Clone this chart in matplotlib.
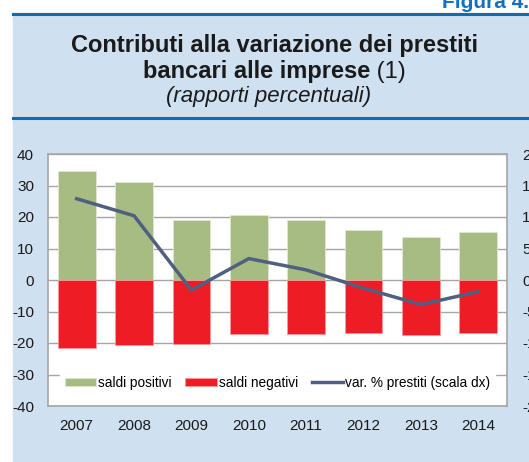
import matplotlib
matplotlib.use("Agg")
import matplotlib.pyplot as plt
from matplotlib.patches import Rectangle
from matplotlib.lines import Line2D

plt.rcParams['font.family'] = ['Liberation Sans', 'DejaVu Sans']
plt.rcParams['axes.unicode_minus'] = False

anni = ['2007', '2008', '2009', '2010', '2011', '2012', '2013', '2014']
saldi_positivi = [34.6, 31.1, 18.9, 20.5, 18.9, 15.9, 13.7, 15.1]
saldi_negativi = [-21.7, -20.5, -20.2, -17.0, -17.3, -16.9, -17.4, -16.8]
var_prestiti = [12.9, 10.2, -1.6, 3.4, 1.6, -1.3, -3.9, -1.85]

W, H = 529, 462
fig = plt.figure(figsize=(W / 100, H / 100), dpi=100)
fig.patch.set_facecolor('white')

def px(x, y):
    return x / W, 1 - y / H

# light blue panel and dark blue rules
fig.add_artist(Rectangle(px(13, 462), (W - 13) / W, (462 - 13) / H,
                         transform=fig.transFigure, color='#cfe0f1', zorder=-10))
for yy in (13.5, 117.5):
    fig.add_artist(Line2D([13 / W, 1], [1 - yy / H] * 2, color='#0b6db5', lw=2.2, zorder=-5))

fig.text(*px(442, 8), 'Figura 4.4', color='#1170c0', fontsize=15,
         fontweight='bold', ha='left', va='baseline')

# titles
cx = 274.5
fig.text(*px(cx, 52), 'Contributi alla variazione dei prestiti', fontsize=17,
         fontweight='bold', ha='center', va='baseline', color='#1a1a1a')
r = fig.canvas.get_renderer()
t_bold = fig.text(0, 0, 'bancari alle imprese', fontsize=17, fontweight='bold')
t_norm = fig.text(0, 0, ' (1)', fontsize=17)
wb = t_bold.get_window_extent(r).width
wn = t_norm.get_window_extent(r).width
x0 = cx - (wb + wn) / 2
t_bold.set_position(px(x0, 78)); t_bold.set_va('baseline'); t_bold.set_color('#1a1a1a')
t_norm.set_position(px(x0 + wb, 78)); t_norm.set_va('baseline'); t_norm.set_color('#1a1a1a')
fig.text(*px(cx - 6, 102), '(rapporti percentuali)', fontsize=16, style='italic',
         ha='center', va='baseline', color='#1a1a1a')

# chart
left, top, right, bottom = 48, 154, 507, 406
ax = fig.add_axes([left / W, 1 - bottom / H, (right - left) / W, (bottom - top) / H])
ax.set_facecolor('white')
x = list(range(len(anni)))
ax.bar(x, saldi_positivi, width=0.66, color='#a6bc82', edgecolor='#dfe8d2',
       linewidth=0.6, label='saldi positivi', zorder=2)
ax.bar(x, saldi_negativi, width=0.66, color='#ee1d25', edgecolor='#f49a9e',
       linewidth=0.6, label='saldi negativi', zorder=2)
ax.set_xlim(-0.5, 7.5)
ax.set_ylim(-40, 40)
ax.set_yticks(range(-40, 41, 10))
ax.set_xticks(x)
ax.set_xticklabels(anni)
ax.grid(axis='y', color='#a6a6a6', lw=1, zorder=0)
ax.set_axisbelow(True)
ax.tick_params(length=0, labelsize=11, colors='#1a1a1a', pad=9)
ax.tick_params(axis='y', pad=10)
for s in ax.spines.values():
    s.set_color('#a6a6a6')
    s.set_linewidth(1.2)

ax2 = ax.twinx()
ax2.plot(x, var_prestiti, color='#4f6080', lw=2.5, label='var. % prestiti (scala dx)', zorder=3)
ax2.set_ylim(-20, 20)
ax2.set_yticks(range(-20, 21, 5))
ax2.tick_params(length=0, labelsize=11, colors='#1a1a1a', pad=11)
for s in ax2.spines.values():
    s.set_visible(False)

h1, l1 = ax.get_legend_handles_labels()
h2, l2 = ax2.get_legend_handles_labels()
leg = ax2.legend(h1 + h2, l1 + l2, ncol=3, loc='center', bbox_to_anchor=(0.5, 0.092),
                 fontsize=9.8, frameon=True, fancybox=False, handlelength=2.3,
                 handleheight=0.6, handletextpad=0.15, columnspacing=1.0,
                 borderpad=0.35, borderaxespad=0)
leg.get_frame().set_facecolor('white')
leg.get_frame().set_edgecolor('white')
leg.get_frame().set_alpha(1)

fig.savefig('out.png', dpi=100)
